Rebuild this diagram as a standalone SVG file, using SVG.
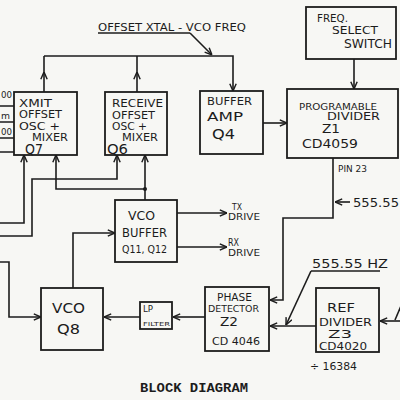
<svg xmlns="http://www.w3.org/2000/svg" width="400" height="400" viewBox="0 0 400 400">
<style>
.ln{stroke:#1c1c1c;stroke-width:1.6;fill:none;stroke-linejoin:miter}
.bx{fill:none;stroke:#1c1c1c;stroke-width:1.8}
.t{font-family:"DejaVu Sans","Liberation Sans",sans-serif;fill:#1c1c1c}
.ttl{font-family:"Liberation Mono",monospace;font-weight:bold;fill:#1c1c1c}
</style>
<defs>
<marker id="a" viewBox="0 0 10 10" refX="10" refY="5" markerWidth="8" markerHeight="8" markerUnits="userSpaceOnUse" orient="auto">
<path d="M1,1 L10,5 L1,9" fill="none" stroke="#1c1c1c" stroke-width="1.8"/>
</marker>
</defs>
<rect width="400" height="400" fill="#f7f7f4"/>

<g id="connectors">
<path class="ln" d="M44,56 H233 V91" marker-end="url(#a)"/>
<path class="ln" d="M44,92 V72" marker-end="url(#a)"/>
<path class="ln" d="M44,72 V56"/>
<path class="ln" d="M137,92 V72" marker-end="url(#a)"/>
<path class="ln" d="M137,72 V56"/>
<path class="ln" d="M98,33 H190"/>
<path class="ln" d="M190,33 L212,55" marker-end="url(#a)"/>
<path class="ln" d="M263,123 H287" marker-end="url(#a)"/>
<path class="ln" d="M354,59 V89" marker-end="url(#a)"/>
<path class="ln" d="M333,158 V218 H283 V300 H270" marker-end="url(#a)"/>
<path class="ln" d="M350,202 H335" marker-end="url(#a)"/>
<path class="ln" d="M311,271 H380"/>
<path class="ln" d="M311,271 L286,325" marker-end="url(#a)"/>
<path class="ln" d="M316,326 H270" marker-end="url(#a)"/>
<path class="ln" d="M400,321 H380" marker-end="url(#a)"/>
<path class="ln" d="M401,306 L395,320"/>
<path class="ln" d="M205,317 H173" marker-end="url(#a)"/>
<path class="ln" d="M140,317 H104" marker-end="url(#a)"/>
<path class="ln" d="M0,262 H9 V317 H41" marker-end="url(#a)"/>
<path class="ln" d="M73,288 V233 H115" marker-end="url(#a)"/>
<path class="ln" d="M177,213 H227" marker-end="url(#a)"/>
<path class="ln" d="M177,247 H227" marker-end="url(#a)"/>
<path class="ln" d="M145,200 V155" marker-end="url(#a)"/>
<path class="ln" d="M145,189 H56 V155" marker-end="url(#a)"/>
<circle cx="145" cy="189" r="2" fill="#1c1c1c"/>
<path class="ln" d="M0,236 H32 V179 H117 V155" marker-end="url(#a)"/>
<path class="ln" d="M0,223 H24 V155" marker-end="url(#a)"/>
<path class="ln" d="M0,106 H14 M0,122 H14 M0,138 H14 M0,152 H14"/>
</g>

<g id="labels">
<text class="t" x="1" y="98" font-size="9" textLength="11" lengthAdjust="spacingAndGlyphs">00</text>
<text class="t" x="1" y="119" font-size="9" textLength="9" lengthAdjust="spacingAndGlyphs">m</text>
<text class="t" x="1" y="135" font-size="9" textLength="11" lengthAdjust="spacingAndGlyphs">00</text>
<text class="t" x="98" y="31" font-size="10" textLength="148" lengthAdjust="spacingAndGlyphs">OFFSET XTAL - VCO FREQ</text>
<text class="t" x="338" y="172" font-size="9" textLength="29" lengthAdjust="spacingAndGlyphs">PIN 23</text>
<text class="t" x="353" y="207" font-size="12" textLength="46" lengthAdjust="spacingAndGlyphs">555.55</text>
<text class="t" x="312" y="268" font-size="13" textLength="76" lengthAdjust="spacingAndGlyphs">555.55 HZ</text>
<text class="t" x="310" y="370" font-size="10" textLength="47" lengthAdjust="spacingAndGlyphs">÷ 16384</text>
<text class="t" x="232" y="210" font-size="9" textLength="10" lengthAdjust="spacingAndGlyphs">TX</text>
<text class="t" x="228" y="220" font-size="9" textLength="32" lengthAdjust="spacingAndGlyphs">DRIVE</text>
<text class="t" x="228" y="246" font-size="10" textLength="11" lengthAdjust="spacingAndGlyphs">RX</text>
<text class="t" x="228" y="256" font-size="9" textLength="32" lengthAdjust="spacingAndGlyphs">DRIVE</text>
<text class="ttl" x="140" y="392" font-size="13" textLength="108" lengthAdjust="spacingAndGlyphs">BLOCK DIAGRAM</text>
</g>

<g id="xmit">
<rect class="bx" x="14" y="92" width="63" height="63"/>
<text class="t" x="19" y="107" font-size="11" textLength="33" lengthAdjust="spacingAndGlyphs">XMIT</text>
<text class="t" x="19" y="118" font-size="10" textLength="43" lengthAdjust="spacingAndGlyphs">OFFSET</text>
<text class="t" x="19" y="130" font-size="11" textLength="41" lengthAdjust="spacingAndGlyphs">OSC +</text>
<text class="t" x="32" y="141" font-size="10" textLength="36" lengthAdjust="spacingAndGlyphs">MIXER</text>
<text class="t" x="25" y="154" font-size="14" textLength="18" lengthAdjust="spacingAndGlyphs">Q7</text>
</g>

<g id="receive">
<rect class="bx" x="105" y="92" width="62" height="63"/>
<text class="t" x="112" y="107" font-size="11" textLength="51" lengthAdjust="spacingAndGlyphs">RECEIVE</text>
<text class="t" x="112" y="119" font-size="10" textLength="43" lengthAdjust="spacingAndGlyphs">OFFSET</text>
<text class="t" x="112" y="130" font-size="11" textLength="35" lengthAdjust="spacingAndGlyphs">OSC +</text>
<text class="t" x="122" y="141" font-size="10" textLength="36" lengthAdjust="spacingAndGlyphs">MIXER</text>
<text class="t" x="107" y="154" font-size="14" textLength="21" lengthAdjust="spacingAndGlyphs">Q6</text>
</g>

<g id="bufferamp">
<rect class="bx" x="200" y="91" width="63" height="63"/>
<text class="t" x="207" y="105" font-size="11" textLength="45" lengthAdjust="spacingAndGlyphs">BUFFER</text>
<text class="t" x="207" y="121" font-size="12" textLength="36" lengthAdjust="spacingAndGlyphs">AMP</text>
<text class="t" x="212" y="139" font-size="14" textLength="23" lengthAdjust="spacingAndGlyphs">Q4</text>
</g>

<g id="progdiv">
<rect class="bx" x="287" y="89" width="111" height="69"/>
<text class="t" x="299" y="110" font-size="9" textLength="78" lengthAdjust="spacingAndGlyphs">PROGRAMABLE</text>
<text class="t" x="327" y="120" font-size="10" textLength="53" lengthAdjust="spacingAndGlyphs">DIVIDER</text>
<text class="t" x="322" y="133" font-size="12" textLength="18" lengthAdjust="spacingAndGlyphs">Z1</text>
<text class="t" x="302" y="148" font-size="13" textLength="56" lengthAdjust="spacingAndGlyphs">CD4059</text>
</g>

<g id="freqselect">
<rect class="bx" x="306" y="7" width="90" height="52"/>
<text class="t" x="317" y="22" font-size="11" textLength="31" lengthAdjust="spacingAndGlyphs">FREQ.</text>
<text class="t" x="332" y="34" font-size="11" textLength="46" lengthAdjust="spacingAndGlyphs">SELECT</text>
<text class="t" x="344" y="48" font-size="12" textLength="48" lengthAdjust="spacingAndGlyphs">SWITCH</text>
</g>

<g id="vcobuffer">
<rect class="bx" x="115" y="200" width="62" height="62"/>
<text class="t" x="128" y="220" font-size="12" textLength="27" lengthAdjust="spacingAndGlyphs">VCO</text>
<text class="t" x="122" y="237" font-size="12" textLength="45" lengthAdjust="spacingAndGlyphs">BUFFER</text>
<text class="t" x="122" y="253" font-size="10" textLength="45" lengthAdjust="spacingAndGlyphs">Q11, Q12</text>
</g>

<g id="vco">
<rect class="bx" x="41" y="288" width="62" height="62"/>
<text class="t" x="52" y="313" font-size="14" textLength="33" lengthAdjust="spacingAndGlyphs">VCO</text>
<text class="t" x="57" y="334" font-size="14" textLength="23" lengthAdjust="spacingAndGlyphs">Q8</text>
</g>

<g id="lpfilter">
<rect class="bx" x="140" y="302" width="32" height="27"/>
<text class="t" x="143" y="312" font-size="9" textLength="10" lengthAdjust="spacingAndGlyphs">LP</text>
<text class="t" x="143" y="326" font-size="5.5" textLength="27" lengthAdjust="spacingAndGlyphs">FILTER</text>
</g>

<g id="phasedetector">
<rect class="bx" x="205" y="287" width="64" height="64"/>
<text class="t" x="217" y="301" font-size="10" textLength="35" lengthAdjust="spacingAndGlyphs">PHASE</text>
<text class="t" x="208" y="312" font-size="9" textLength="51" lengthAdjust="spacingAndGlyphs">DETECTOR</text>
<text class="t" x="220" y="326" font-size="12" textLength="18" lengthAdjust="spacingAndGlyphs">Z2</text>
<text class="t" x="212" y="345" font-size="10" textLength="48" lengthAdjust="spacingAndGlyphs">CD 4046</text>
</g>

<g id="refdivider">
<rect class="bx" x="316" y="288" width="63" height="64"/>
<text class="t" x="327" y="312" font-size="13" textLength="28" lengthAdjust="spacingAndGlyphs">REF</text>
<text class="t" x="319" y="326" font-size="11" textLength="53" lengthAdjust="spacingAndGlyphs">DIVIDER</text>
<text class="t" x="328" y="338" font-size="11" textLength="24" lengthAdjust="spacingAndGlyphs">Z3</text>
<text class="t" x="319" y="350" font-size="10" textLength="48" lengthAdjust="spacingAndGlyphs">CD4020</text>
</g>
</svg>
